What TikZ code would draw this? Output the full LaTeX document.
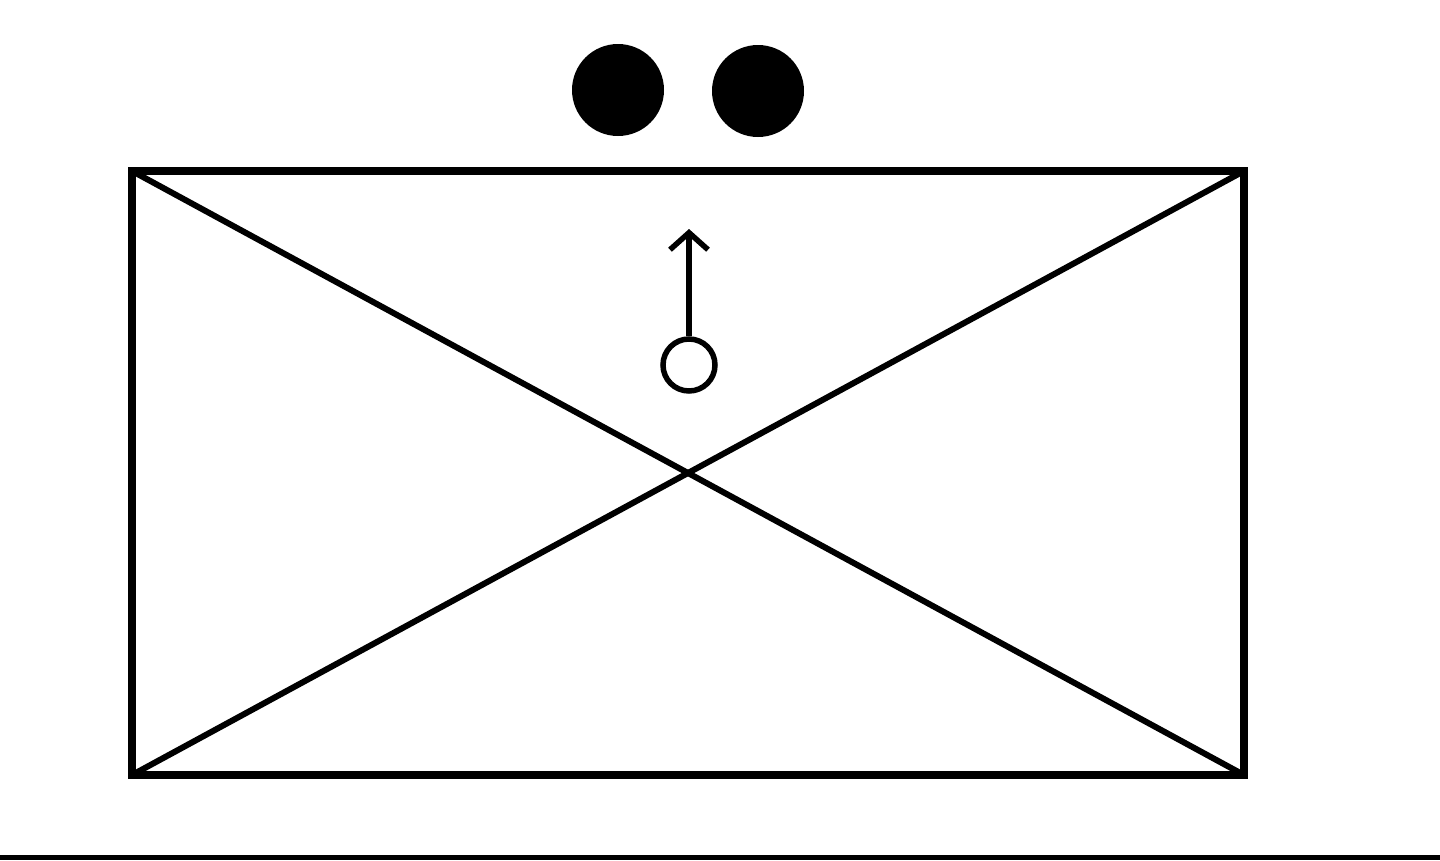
\documentclass[tikz,border=0pt]{standalone}
\usetikzlibrary{arrows.meta}
\begin{document}
\begin{tikzpicture}[x=1pt,y=-1pt,
  dot/.style={circle,fill=black,minimum size=92pt,inner sep=0pt},
  ring/.style={circle,draw=black,line width=5.5pt,fill=white,minimum size=52pt,inner sep=0pt},
  frame/.style={draw=black,line width=8.5pt},
  diag/.style={draw=black,line width=6pt},
  vec/.style={draw=black,line width=5.5pt,-{Straight Barb[length=17pt,width=38pt,line width=5.5pt]}}]
\useasboundingbox (0,0) rectangle (1440,860);
\fill[white] (0,0) rectangle (1440,860);
\coordinate (tl) at (132,171);
\coordinate (tr) at (1244,171);
\coordinate (bl) at (132,775);
\coordinate (br) at (1244,775);
\draw[diag] (tl) -- (br);
\draw[diag] (bl) -- (tr);
\draw[frame] (tl) rectangle (br);
\node[dot] (d1) at (618,90) {};
\node[dot] (d2) at (758,91) {};
\node[ring] (r) at (689,365) {};
\coordinate (tip) at (689,229);
\draw[vec] (r.north) -- (tip);
\fill[black] (0,855) rectangle (1440,860);
\end{tikzpicture}
\end{document}
